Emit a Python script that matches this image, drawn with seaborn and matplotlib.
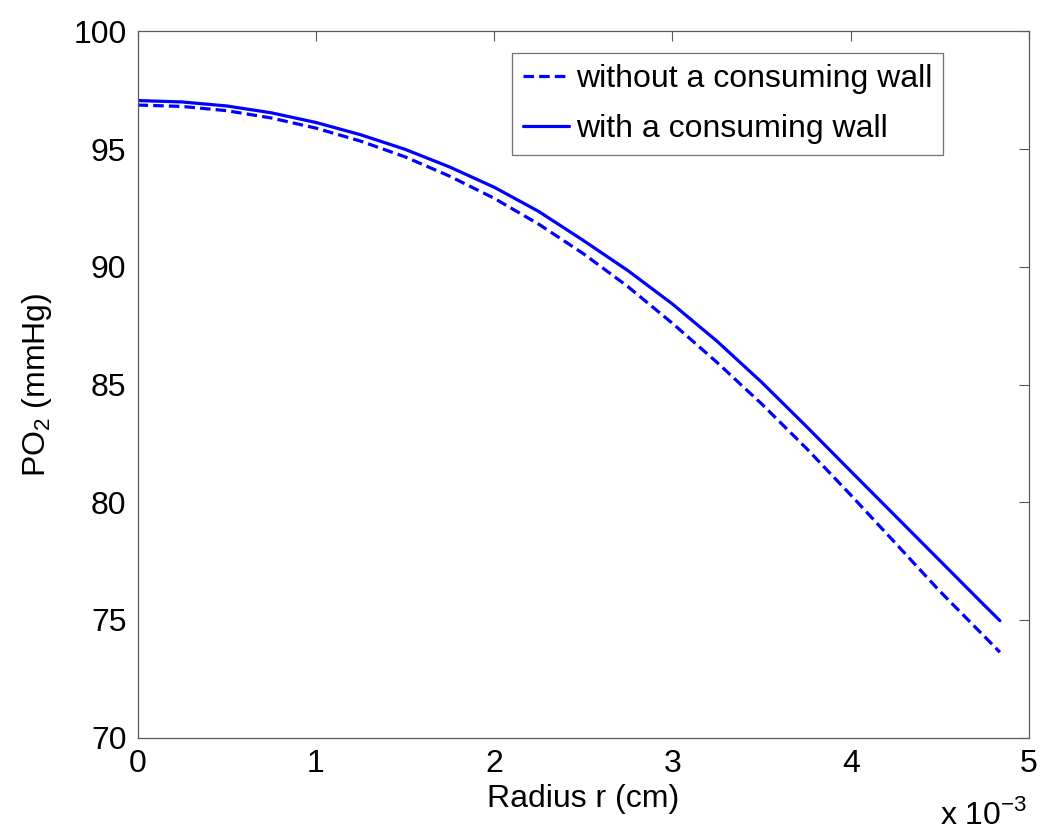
import numpy as np
import pandas as pd
import matplotlib
matplotlib.use("Agg")
import matplotlib.pyplot as plt
from matplotlib.ticker import FuncFormatter
import seaborn as sns

# raio em cm
radius = [0.0, 0.25e-3, 0.5e-3, 0.75e-3, 1.0e-3, 1.25e-3, 1.5e-3, 1.75e-3, 2.0e-3,
          2.25e-3, 2.5e-3, 2.75e-3, 3.0e-3, 3.25e-3, 3.5e-3, 3.75e-3, 4.0e-3,
          4.25e-3, 4.5e-3, 4.75e-3, 4.837e-3]
po2_without = [96.87, 96.81, 96.63, 96.32, 95.89, 95.34, 94.67, 93.85, 92.91,
               91.81, 90.56, 89.16, 87.60, 85.94, 84.18, 82.30, 80.31,
               78.27, 76.22, 74.30, 73.63]
po2_with = [97.06, 97.00, 96.83, 96.54, 96.13, 95.61, 94.99, 94.24, 93.38,
            92.35, 91.12, 89.84, 88.42, 86.84, 85.10, 83.23, 81.32,
            79.42, 77.52, 75.62, 74.97]

label_without = "without a consuming wall"
label_with = "with a consuming wall"

df = pd.DataFrame({
    "r": radius * 2,
    "po2": po2_without + po2_with,
    "caso": [label_without] * len(radius) + [label_with] * len(radius),
})

sns.set_style("white")
plt.rcParams['font.family'] = ['Liberation Sans', 'DejaVu Sans']
plt.rcParams['mathtext.fontset'] = 'custom'
plt.rcParams['mathtext.rm'] = 'Liberation Sans'
plt.rcParams['text.color'] = 'black'
plt.rcParams['axes.labelcolor'] = 'black'

fig = plt.figure(figsize=(10.5, 8.33), dpi=100)
ax = fig.add_axes([0.131, 0.1144, 0.849, 0.848])

sns.lineplot(data=df, x="r", y="po2", hue="caso", style="caso",
             palette=["#0000ff", "#0000ff"], dashes=[(3.3, 1.6), ""],
             linewidth=2.3, ax=ax)

ax.set_xlim(0, 5e-3)
ax.set_ylim(70, 100)
ax.set_xticks(np.arange(0, 5.01e-3, 1e-3))
ax.set_yticks(np.arange(70, 101, 5))
ax.xaxis.set_major_formatter(FuncFormatter(lambda v, p: f"{v / 1e-3:.0f}"))

ax.tick_params(direction="in", length=7, width=0.8, color="0.35",
               labelcolor="black", labelsize=23, top=True, right=True, pad=8)
for s in ax.spines.values():
    s.set_color("0.35")
    s.set_linewidth(0.9)

ax.set_xlabel("Radius r (cm)", fontsize=23, labelpad=4)
ax.set_ylabel("PO$_2$ (mmHg)", fontsize=23, labelpad=14)
fig.text(0.978, 0.003, r"x 10$^{-3}$", fontsize=23, ha="right", va="bottom")

leg = ax.legend(loc="upper left", bbox_to_anchor=(0.42, 0.9696), fontsize=23,
                frameon=True, fancybox=False, borderpad=0.35, labelspacing=0.62,
                handlelength=1.45, handletextpad=0.2, borderaxespad=0.0)
leg.get_frame().set_edgecolor("0.3")
leg.get_frame().set_linewidth(0.9)

fig.savefig("out.png", dpi=100)
